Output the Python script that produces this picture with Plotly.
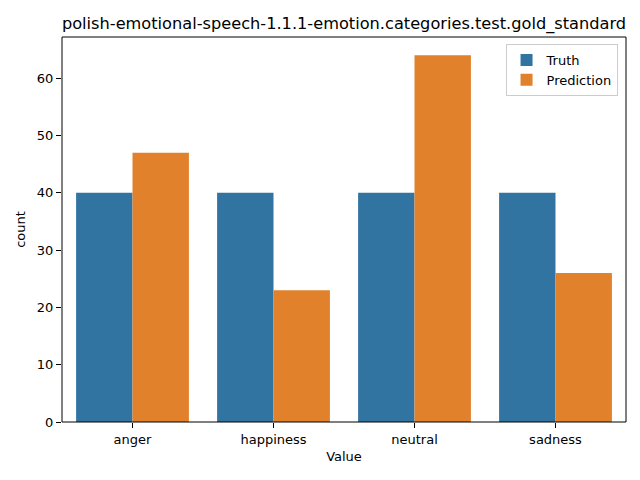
import plotly.graph_objects as go

categories = ["anger", "happiness", "neutral", "sadness"]
truth = [40, 40, 40, 40]
prediction = [47, 23, 64, 26]
series_names = ["Truth", "Prediction"]
colors = ["#3274a1", "#e1812c"]
title = "polish-emotional-speech-1.1.1-emotion.categories.test.gold_standard"

fig = go.Figure()
for name, vals, c in zip(series_names, [truth, prediction], colors):
    fig.add_trace(go.Bar(x=categories, y=vals, name=name, marker_color=c,
                         marker_line_width=0))

font = "DejaVu Sans, sans-serif"
L, R, T, B = 62, 14, 37, 58
fig.update_layout(
    width=640, height=480,
    margin=dict(l=L, r=R, t=T, b=B, autoexpand=False),
    paper_bgcolor="white", plot_bgcolor="white",
    barmode="group", bargap=0.2, bargroupgap=0,
    font=dict(family=font, size=13, color="black"),
    title=dict(text=title, x=(L + (640 - L - R) / 2) / 640,
               xanchor="center", y=1 - 23 / 480, yanchor="middle",
               font=dict(size=16.2)),
    legend=dict(x=0.985, y=0.982, xanchor="right", yanchor="top",
                bordercolor="#cccccc", borderwidth=1, bgcolor="white",
                font=dict(size=13), tracegroupgap=2),
    showlegend=True,
    shapes=[dict(type="rect", xref="paper", yref="paper", x0=0, x1=1, y0=0, y1=1,
                 line=dict(color="black", width=1), fillcolor="rgba(0,0,0,0)",
                 layer="above")],
)
fig.update_xaxes(title_text="Value", title_font=dict(size=13), automargin=False,
                 showline=False, ticks="outside", ticklen=5, tickcolor="black",
                 range=[-0.5, 3.5], title_standoff=6, tickfont=dict(size=13))
fig.update_yaxes(title_text="count", title_font=dict(size=13), automargin=False,
                 showline=False, ticks="outside", ticklen=5, tickcolor="black",
                 range=[0, 67.2], dtick=10, showgrid=False, zeroline=False,
                 title_standoff=8, tickfont=dict(size=13))
fig.write_html("out.html", config={"displayModeBar": False},
               post_script="document.body.style.margin='0';document.body.style.overflow='hidden';")
